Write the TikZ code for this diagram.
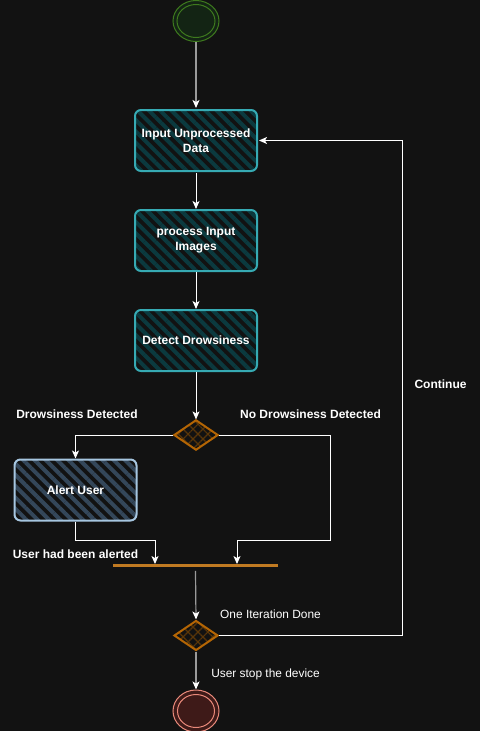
\documentclass[tikz,border=0pt]{standalone}
\usepackage{fontspec}
\setmainfont{Liberation Sans}
\usetikzlibrary{arrows.meta,shapes.geometric,patterns.meta}
\definecolor{bg}{HTML}{121212}
\definecolor{tealS}{HTML}{36AAB3}
\definecolor{tealF}{HTML}{0B3A3F}
\definecolor{blueS}{HTML}{A6C6E0}
\definecolor{blueF}{HTML}{34475A}
\definecolor{orS}{HTML}{B46504}
\definecolor{orF}{HTML}{5A3608}
\definecolor{barC}{HTML}{C07A22}
\definecolor{grnS}{HTML}{3E7A1E}
\definecolor{grnF}{HTML}{132414}
\definecolor{redS}{HTML}{E8897A}
\definecolor{redF}{HTML}{3E1A18}
\definecolor{lineG}{HTML}{9A9A9A}
\tikzset{
  procbox/.style={rectangle, rounded corners=6pt, draw=tealS, line width=2pt,
    minimum width=122pt, minimum height=61pt, inner sep=2pt,
    preaction={fill=bg}, pattern={Lines[angle=-45,distance=8pt,line width=4pt]}, pattern color=tealF,
    text=white, font=\bfseries\fontsize{12}{15}\selectfont, align=center},
  alertbox/.style={procbox, draw=blueS, pattern color=blueF},
  decision/.style={diamond, draw=orS, line width=2pt, minimum width=44pt, minimum height=30pt, inner sep=0pt,
    preaction={fill=bg}, pattern={Hatch[angle=45,distance=7pt,line width=1.2pt]}, pattern color=orF},
  lbl/.style={text=white, font=\bfseries\fontsize{12}{14}\selectfont, inner sep=0pt},
  lblr/.style={text=white, font=\fontsize{11.9}{14}\selectfont, inner sep=0pt},
  wline/.style={draw=white, line width=1pt, -{Stealth[length=8pt,width=7pt,inset=2pt]}},
  gline/.style={draw=lineG, line width=1.2pt, -{Stealth[length=8pt,width=7pt,inset=2pt,color=white]}},
}
\begin{document}
\begin{tikzpicture}[x=1pt,y=-1pt]
\fill[bg] (0,0) rectangle (480,731);
\useasboundingbox (0,0) rectangle (480,731);

% start
\node[ellipse, draw=grnS, line width=1pt, fill=grnF, minimum width=46pt, minimum height=41pt, inner sep=0pt] (start) at (196,21) {};
\draw[grnS, line width=1pt] (start.center) ellipse [x radius=19pt, y radius=16.5pt];

\node[procbox] (b1) at (196,140.5) {Input Unprocessed\\Data};
\node[procbox] (b2) at (196,240.5) {process Input\\Images};
\node[procbox] (b3) at (196,340.5) {Detect Drowsiness};
\node[decision] (d1) at (196,435) {};
\node[alertbox] (alert) at (75.5,490) {Alert User};
\node[rectangle, fill=barC, minimum width=165pt, minimum height=2.5pt, inner sep=0pt] (bar) at (195.5,565.5) {};
\node[decision] (d2) at (196,635.5) {};

% end
\node[ellipse, draw=redS, line width=1pt, fill=redF, minimum width=46pt, minimum height=42pt, inner sep=0pt] (stop) at (196,711) {};
\draw[redS, line width=1pt] (stop.center) ellipse [x radius=18.5pt, y radius=16.5pt];

% labels
\node[lbl] (l1) at (77,414) {Drowsiness Detected};
\node[lbl] (l2) at (310.5,414) {No Drowsiness Detected};
\node[lbl] (l3) at (440.5,384.5) {Continue};
\node[lbl] (l4) at (75.5,554) {User had been alerted};
\node[lblr] (l5) at (270.5,614) {One Iteration Done};
\node[lblr] (l6) at (265.5,674.5) {User stop the device};

% connectors
\draw[gline] (start) -- (b1);
\draw[wline] (b1) -- (b2);
\draw[wline] (b2) -- (b3);
\draw[wline] (b3) -- (d1);
\draw[wline] (d1.west) -| (alert.north);
\draw[wline] (d1.east) -- ++(112,0) -- ++(0,105) -| ([xshift=41.5pt]bar.north);
\draw[wline] (alert.south) -- ++(0,19) -| ([xshift=-40.5pt]bar.north);
\draw[gline] ([yshift=-4pt]bar.south) -- (d2.north);
\draw[wline] (d2.east) -- ++(183,0) |- (b1.east);
\draw[gline] (d2.south) -- (stop.north);
\end{tikzpicture}
\end{document}
